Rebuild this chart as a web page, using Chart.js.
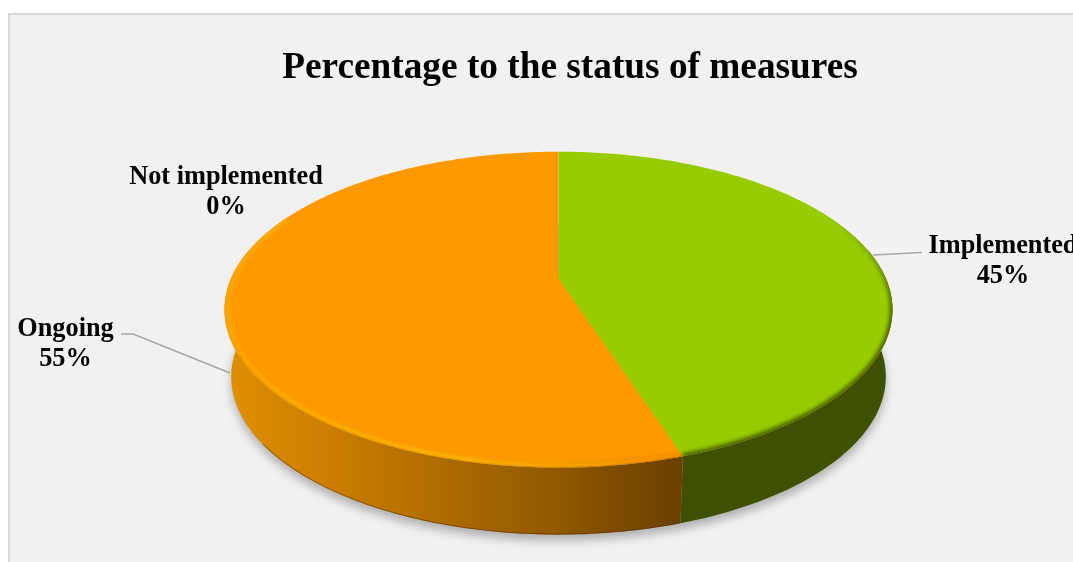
<!DOCTYPE html>
<html>
<head>
<meta charset="utf-8">
<title>Percentage to the status of measures</title>
<script src="https://cdn.jsdelivr.net/npm/chart.js@4/dist/chart.umd.min.js"></script>
<style>
  html, body { margin: 0; height: 100%; background: #fff; overflow: hidden; }
  #frame {
    position: absolute; left: 8px; top: 13px; width: 1124px; height: 560px;
    background: #f1f1f1; border: 2px solid #d9d9d9; box-sizing: border-box;
  }
  #status-pie-chart { position: absolute; left: 8px; top: 13px; }
</style>
</head>
<body>
<div id="frame"></div>
<canvas id="status-pie-chart" width="1124" height="549"></canvas>
<script>
// measures by status
const categories = ["Implemented", "Ongoing", "Not implemented"];
const percentages = [45, 55, 0];
const sliceColors = ["#99CC00", "#FF9900", "#A5A5A5"];
const chartTitle = "Percentage to the status of measures";

// tilted disc: how the flat pie is projected, in canvas pixels
const tilt = { shiftX: -11.5, halfWidth: 327.5, halfDepth: 151.9, persp: -0.196, wall: 67, narrow: 0.98 };
// angles where the disc outline turns away from the viewer
const wallFrom = 1.373, wallTo = 4.91;

// label anchors and leader lines, same order as categories
const labelSpots = [
  { x: 995, y: 248 },
  { x: 57.5, y: 331 },
  { x: 218, y: 179 }
];
const leaders = [
  [[865, 242], [914, 239.5]],
  [[113, 321], [125, 321], [222, 360]],
  null
];

function rimPoint(apex, th, lower, r) {
  r = r === undefined ? 1 : r;
  const u = Math.sin(th) * r, v = -Math.cos(th) * r, w = 1 + tilt.persp * v;
  let x = tilt.halfWidth * u / w, y = tilt.halfDepth * v / w;
  if (lower) { x *= tilt.narrow; y += tilt.wall; }
  return { x: apex.x + x, y: apex.y + y };
}

function traceRim(ctx, apex, th0, th1, lower, r, move) {
  const steps = Math.max(2, Math.ceil(Math.abs(th1 - th0) * 60));
  for (let i = 0; i <= steps; i++) {
    const p = rimPoint(apex, th0 + (th1 - th0) * i / steps, lower, r);
    if (i === 0 && move) ctx.moveTo(p.x, p.y); else ctx.lineTo(p.x, p.y);
  }
}

function wallFill(ctx, i) {
  if (i === 0) return "#3f5000";
  const g = ctx.createLinearGradient(217, 0, 673, 0);
  g.addColorStop(0, "#e08f00");
  g.addColorStop(0.25, "#c97c00");
  g.addColorStop(0.7, "#945b00");
  g.addColorStop(1, "#6a3f00");
  return g;
}

const disc3d = {
  id: "disc3d",
  beforeDatasetDraw(chart, args) {
    const ctx = chart.ctx;
    const arcs = chart.getDatasetMeta(args.index).data;
    const apex = { x: arcs[0].x + tilt.shiftX, y: arcs[0].y };
    const turns = arcs.map(a => [a.startAngle + Math.PI / 2, a.endAngle + Math.PI / 2]);
    ctx.save();

    // soft shadow on the floor
    ctx.save();
    ctx.filter = "blur(5px)";
    ctx.fillStyle = "rgba(0,0,0,0.27)";
    ctx.beginPath();
    ctx.translate(0, 6);
    traceRim(ctx, apex, 0, Math.PI * 2, true, 1, true);
    ctx.closePath();
    ctx.fill();
    ctx.restore();

    // leader lines
    ctx.strokeStyle = "#a6a6a6";
    ctx.lineWidth = 1.5;
    leaders.forEach(line => {
      if (!line) return;
      ctx.beginPath();
      line.forEach((p, n) => n ? ctx.lineTo(p[0], p[1]) : ctx.moveTo(p[0], p[1]));
      ctx.stroke();
    });

    // side walls, only the part facing the viewer, rounded where they meet the face
    turns.forEach((t, i) => {
      if (t[1] - t[0] < 1e-4) return;
      const a = Math.max(t[0], wallFrom), b = Math.min(t[1], wallTo);
      ctx.beginPath();
      traceRim(ctx, apex, a, b, false, 1, true);
      if (b === wallTo) {
        const up = rimPoint(apex, b, false), low = rimPoint(apex, b, true);
        ctx.quadraticCurveTo(up.x - 1, up.y + 50, low.x, low.y);
      }
      traceRim(ctx, apex, b, a, true, 1, false);
      if (a === wallFrom) {
        const up = rimPoint(apex, a, false);
        ctx.quadraticCurveTo(up.x + 1, up.y + 50, up.x, up.y);
      }
      ctx.closePath();
      ctx.fillStyle = wallFill(ctx, i);
      ctx.fill();
      // dark lip along the bottom of the wall
      if (i === 1) {
        ctx.save();
        ctx.clip();
        ctx.filter = "blur(0.7px)";
        ctx.strokeStyle = "rgba(70,35,0,0.45)";
        ctx.lineWidth = 2;
        ctx.beginPath();
        traceRim(ctx, apex, a, 4.1, true, 1, true);
        ctx.stroke();
        ctx.restore();
      }
    });

    // top faces with a soft rounded edge
    turns.forEach((t, i) => {
      if (t[1] - t[0] < 1e-4) return;
      const face = new Path2D();
      face.moveTo(apex.x, apex.y);
      traceRim(face, apex, t[0], t[1], false, 1, false);
      face.closePath();
      ctx.fillStyle = arcs[i].options.backgroundColor;
      ctx.fill(face);

      ctx.save();
      ctx.clip(face);
      ctx.filter = "blur(2.2px)";
      if (i === 0) {
        // green edge darkens gradually towards the front
        const fade = ctx.createLinearGradient(0, 205, 0, 300);
        fade.addColorStop(0, "rgba(63,80,0,0)");
        fade.addColorStop(1, "rgba(63,80,0,1)");
        ctx.strokeStyle = fade;
      } else {
        ctx.strokeStyle = wallFill(ctx, i);
      }
      ctx.lineWidth = 5;
      ctx.beginPath();
      traceRim(ctx, apex, Math.max(t[0], 0.8), Math.min(t[1], 4.3), false, 1, true);
      ctx.stroke();
      if (i === 1) {
        const glow = ctx.createLinearGradient(217, 0, 640, 0);
        glow.addColorStop(0, "#ffa600");
        glow.addColorStop(0.55, "#ffb400");
        glow.addColorStop(1, "#ff9900");
        ctx.filter = "blur(1.4px)";
        ctx.strokeStyle = glow;
        ctx.lineWidth = 5;
        ctx.beginPath();
        traceRim(ctx, apex, t[0], 5.15, false, 0.99, true);
        ctx.stroke();
      }
      ctx.restore();
    });

    ctx.restore();
    return false;
  },
  afterDraw(chart) {
    const ctx = chart.ctx;
    ctx.save();
    ctx.font = "bold 26.3px 'Liberation Serif'";
    ctx.fillStyle = "#000";
    ctx.textAlign = "center";
    ctx.textBaseline = "middle";
    categories.forEach((name, i) => {
      const spot = labelSpots[i];
      ctx.fillText(name, spot.x, spot.y - 15);
      ctx.fillText(percentages[i] + "%", spot.x, spot.y + 15.5);
    });
    ctx.restore();
  }
};

new Chart(document.getElementById("status-pie-chart"), {
  type: "pie",
  plugins: [disc3d],
  data: {
    labels: categories,
    datasets: [{
      label: "Status of measures",
      backgroundColor: sliceColors,
      borderWidth: 0,
      data: percentages
    }]
  },
  options: {
    responsive: false,
    animation: false,
    layout: { padding: { top: 34, bottom: 107 } },
    plugins: {
      legend: { display: false },
      tooltip: { enabled: false },
      title: {
        display: true,
        text: chartTitle,
        color: "#000",
        font: { family: "'Liberation Serif'", size: 37.3, weight: "bold", lineHeight: 1.15 },
        padding: { top: 0, bottom: 12.5 }
      }
    }
  }
});
</script>
</body>
</html>
